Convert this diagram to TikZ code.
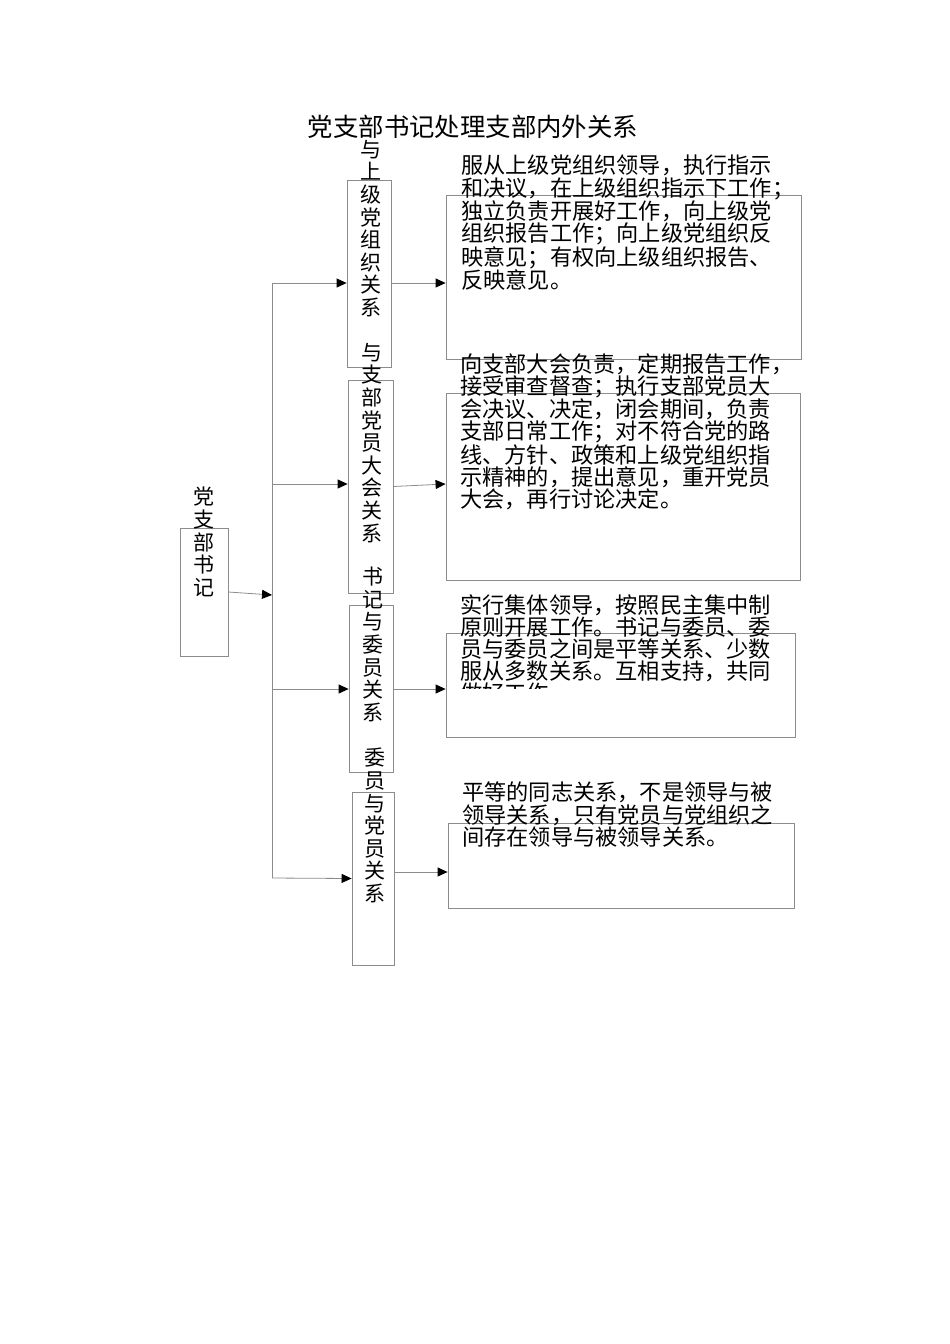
\documentclass[tikz,border=0pt]{standalone}
\usepackage{fontspec}
\setmainfont{Noto Sans CJK SC}
\usetikzlibrary{arrows.meta}
\definecolor{linegray}{rgb}{0.55,0.55,0.55}
\begin{document}
\begin{tikzpicture}[x=1pt,y=-1pt,
  frame/.style={draw=linegray, line width=0.8pt, inner sep=0pt},
  conn/.style={draw=linegray, line width=0.8pt},
  arr/.style={conn, -{Triangle[length=10pt,width=9pt,color=black,fill=black]}},
  body/.style={inner sep=0pt, anchor=north west, align=left, font=\fontsize{22.2}{22.2}\selectfont},
  vlab/.style={inner sep=0pt, anchor=north, align=center, font=\fontsize{21}{22.6}\selectfont},
  titlestyle/.style={inner sep=0pt, font=\fontsize{25.4}{27}\selectfont}
]
\useasboundingbox (0,0) rectangle (950,1344);
\fill[white] (0,0) rectangle (950,1344);

% title
\node[titlestyle] (title) at (473,127) {党支部书记处理支部内外关系};

% frames
\node[frame, minimum width=48pt, minimum height=128pt] (sec) at (204,592) {};
\node[frame, minimum width=44pt, minimum height=187pt] (l1) at (369,273.5) {};
\node[frame, minimum width=45pt, minimum height=213pt] (l2) at (370.5,486.5) {};
\node[frame, minimum width=44pt, minimum height=167pt] (l3) at (371,688.5) {};
\node[frame, minimum width=42pt, minimum height=173pt] (l4) at (373,878.5) {};
\node[frame, minimum width=355pt, minimum height=164pt] (tA) at (623.5,277) {};
\node[frame, minimum width=354pt, minimum height=187pt] (tB) at (623,486.5) {};
\node[frame, minimum width=349pt, minimum height=104pt] (tC) at (620.5,685) {};
\node[frame, minimum width=346pt, minimum height=85pt] (tD) at (621,865.5) {};

% vertical labels
\node[vlab] (secT) at (204,487) {党\\支\\部\\书\\记};
\node[vlab] (l1T) at (371,140) {与\\上\\级\\党\\组\\织\\关\\系};
\node[vlab] (l2T) at (372,343) {与\\支\\部\\党\\员\\大\\会\\关\\系};
\node[vlab] (l3T) at (373,567) {书\\记\\与\\委\\员\\关\\系};
\node[vlab] (l4T) at (375,748) {委\\员\\与\\党\\员\\关\\系};

% body texts
\node[body] (tAT) at (461,155) {服从上级党组织领导，执行指示\\和决议，在上级组织指示下工作；\\独立负责开展好工作，向上级党\\组织报告工作；向上级党组织反\\映意见；有权向上级组织报告、\\反映意见。};
\node[body] (tBT) at (460,353) {向支部大会负责，定期报告工作，\\接受审查督查；执行支部党员大\\会决议、决定，闭会期间，负责\\支部日常工作；对不符合党的路\\线、方针、政策和上级党组织指\\示精神的，提出意见，重开党员\\大会，再行讨论决定。};
\begin{scope}
\clip (440,580) rectangle (810,688);
\node[body] (tCT) at (460,594) {实行集体领导，按照民主集中制\\原则开展工作。书记与委员、委\\员与委员之间是平等关系、少数\\服从多数关系。互相支持，共同\\做好工作。};
\end{scope}
\node[body] (tDT) at (462,782) {平等的同志关系，不是领导与被\\领导关系，只有党员与党组织之\\间存在领导与被领导关系。};

% connectors
\coordinate (tm) at (272,595);
\coordinate (t1) at (272,283);
\coordinate (t2) at (272,484);
\coordinate (t3) at (272,689);
\coordinate (t4) at (272,878);
\coordinate (dY) at (420,872);
\draw[arr] (sec.east) -- (tm);
\draw[conn] (t1) -- (t4);
\draw[arr] (t1) -- (t1 -| l1.west);
\draw[arr] (t2) -- (t2 -| l2.west);
\draw[arr] (t3) -- (t3 -| l3.west);
\draw[arr] (t4) -- (l4.west);
\draw[arr] (t1 -| l1.east) -- (t1 -| tA.west);
\draw[arr] (l2.east) -- (t2 -| tB.west);
\draw[arr] (t3 -| l3.east) -- (t3 -| tC.west);
\draw[arr] (dY -| l4.east) -- (dY -| tD.west);
\end{tikzpicture}
\end{document}
